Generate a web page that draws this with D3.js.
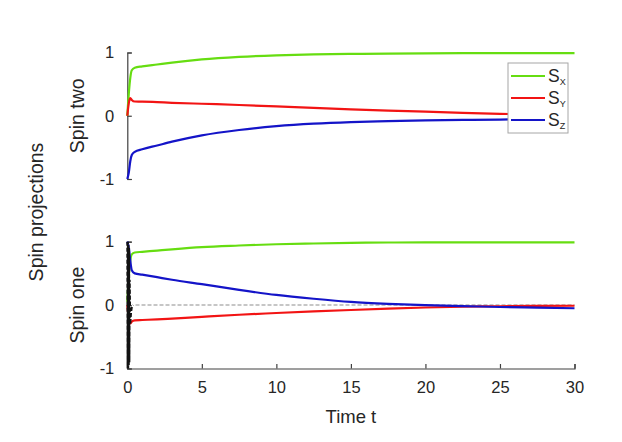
<!DOCTYPE html>
<meta charset="utf-8">
<style>
body { margin: 0; background: #fff; }
svg text { font-family: "Liberation Sans", Arial, sans-serif; fill: #262626; }
.axis path, .axis line { stroke: #404040; stroke-width: 1.2px; }
.line { fill: none; stroke-width: 2.2px; stroke-linejoin: round; }
</style>
<body>
<script src="https://d3js.org/d3.v7.min.js"></script>
<script>
// shared time samples
var tSamples = [0, 0.1, 0.2, 0.3, 0.5, 1, 2, 3, 5, 7.5, 10, 12.5, 15, 17.5, 20, 22.5, 25, 27.5, 30];

// spin two (top panel)
var twoSx = [0, 0.35, 0.6, 0.72, 0.76, 0.78, 0.81, 0.84, 0.89, 0.93, 0.955, 0.97, 0.978, 0.983, 0.987, 0.989, 0.99, 0.99, 0.99];
var twoSy = [0, 0.2, 0.28, 0.25, 0.225, 0.224, 0.215, 0.205, 0.19, 0.17, 0.147, 0.123, 0.1, 0.08, 0.064, 0.045, 0.03, 0.02, 0.015];
var twoSz = [-1, -0.9, -0.72, -0.62, -0.57, -0.53, -0.47, -0.41, -0.31, -0.225, -0.165, -0.125, -0.1, -0.085, -0.074, -0.066, -0.06, -0.055, -0.05];

// spin one (bottom panel)
var oneSx = [0.05, 0.45, 0.7, 0.8, 0.83, 0.84, 0.86, 0.88, 0.915, 0.94, 0.96, 0.972, 0.982, 0.987, 0.99, 0.99, 0.99, 0.99, 0.99];
var oneSy = [0, -0.2, -0.29, -0.26, -0.24, -0.235, -0.225, -0.212, -0.185, -0.152, -0.125, -0.1, -0.077, -0.056, -0.038, -0.026, -0.018, -0.013, -0.01];
var oneSz = [1, 0.9, 0.7, 0.55, 0.5, 0.48, 0.44, 0.4, 0.33, 0.24, 0.16, 0.1, 0.05, 0.02, 0, -0.015, -0.03, -0.04, -0.05];

// fast oscillating component near t = 0 (black dashed) and its tail (grey dashed)
var oscT = [0, 0.02, 0.04, 0.06, 0.08, 0.1, 0.12, 0.14, 0.16, 0.2, 0.25, 0.3, 0.4];
var oscV = [1, -1, 1, -1, 0.95, -0.95, 0.9, -0.9, 0.4, -0.3, -0.12, -0.04, 0];
var tailT = [0.55, 30];
var tailV = [0, 0];

var xTicks = [0, 5, 10, 15, 20, 25, 30];
var yTicks = [-1, 0, 1];
var legendLabels = ["X", "Y", "Z"];
var colors = ["#66dd11", "#f21414", "#1414c8"];

var svg = d3.select("body").append("svg")
    .attr("width", 622)
    .attr("height", 442);

var x = d3.scaleLinear().domain([0, 30]).range([127.3, 574.5]);
var yTop = d3.scaleLinear().domain([-1, 1]).range([179, 52.5]);
var yBot = d3.scaleLinear().domain([-1, 1]).range([368.5, 241.7]);

function lineFor(y, ts) {
    return d3.line()
        .x(function(d, i) { return x(ts[i]); })
        .y(function(d) { return y(d); })
        .curve(d3.curveMonotoneX);
}

// plain hyphen minus like the original
var fmt = function(d) { return String(d); };

function yAxis(y) {
    var g = svg.append("g")
        .attr("class", "axis")
        .attr("transform", "translate(" + x(0) + ",0)")
        .call(d3.axisLeft(y).tickValues(yTicks).tickFormat(fmt)
            .tickSizeInner(-4.5).tickSizeOuter(-4.5).tickPadding(13));
    g.selectAll("text").style("font-size", "16.5px").style("fill", "#262626");
    return g;
}

// top panel: only left axis
yAxis(yTop);
[twoSx, twoSy, twoSz].forEach(function(s, k) {
    svg.append("path").datum(s)
        .attr("class", "line")
        .attr("stroke", colors[k])
        .attr("d", lineFor(yTop, tSamples));
});

// bottom panel
yAxis(yBot);
var xg = svg.append("g")
    .attr("class", "axis")
    .attr("transform", "translate(0," + yBot(-1) + ")")
    .call(d3.axisBottom(x).tickValues(xTicks).tickFormat(fmt)
        .tickSizeInner(-4.5).tickSizeOuter(-4.5).tickPadding(13));
xg.selectAll("text").style("font-size", "16.5px").style("fill", "#262626");

svg.append("path").datum(tailV)
    .attr("fill", "none")
    .attr("stroke", "#b4b4b4")
    .attr("stroke-width", 1.5)
    .attr("stroke-dasharray", "4,2")
    .attr("d", lineFor(yBot, tailT).curve(d3.curveLinear));

[oneSx, oneSy, oneSz].forEach(function(s, k) {
    svg.append("path").datum(s)
        .attr("class", "line")
        .attr("stroke", colors[k])
        .attr("d", lineFor(yBot, tSamples));
});

svg.append("path").datum(oscV)
    .attr("fill", "none")
    .attr("stroke", "#111")
    .attr("stroke-width", 2)
    .attr("stroke-dasharray", "4,2")
    .attr("d", lineFor(yBot, oscT).curve(d3.curveLinear));

// legend (its white background covers the line ends under it)
var lg = svg.append("g");
lg.append("rect")
    .attr("x", 508).attr("y", 63).attr("width", 70).attr("height", 70)
    .attr("fill", "#fff");
lg.append("rect")
    .attr("x", 508).attr("y", 63).attr("width", 60).attr("height", 70)
    .attr("fill", "#fff").attr("stroke", "#a6a6a6").attr("stroke-width", 1);
legendLabels.forEach(function(l, i) {
    var yy = 76 + i * 22;
    lg.append("line")
        .attr("x1", 511).attr("x2", 545).attr("y1", yy).attr("y2", yy)
        .attr("stroke", colors[i]).attr("stroke-width", 2.2);
    var t = lg.append("text")
        .attr("x", 548).attr("y", yy + 6)
        .style("font-size", "17.5px");
    t.append("tspan").text("S");
    t.append("tspan").attr("dy", 3).style("font-size", "9px").text(l);
});

// labels
svg.append("text")
    .attr("x", x(15)).attr("y", 423)
    .attr("text-anchor", "middle")
    .style("font-size", "18.5px")
    .text("Time t");

svg.append("text")
    .attr("transform", "translate(43,212) rotate(-90)")
    .attr("text-anchor", "middle")
    .style("font-size", "19.5px")
    .text("Spin projections");

svg.append("text")
    .attr("transform", "translate(84," + yTop(0) + ") rotate(-90)")
    .attr("text-anchor", "middle")
    .style("font-size", "19.5px")
    .text("Spin two");

svg.append("text")
    .attr("transform", "translate(84," + yBot(0) + ") rotate(-90)")
    .attr("text-anchor", "middle")
    .style("font-size", "19.5px")
    .text("Spin one");
</script>
</body>
